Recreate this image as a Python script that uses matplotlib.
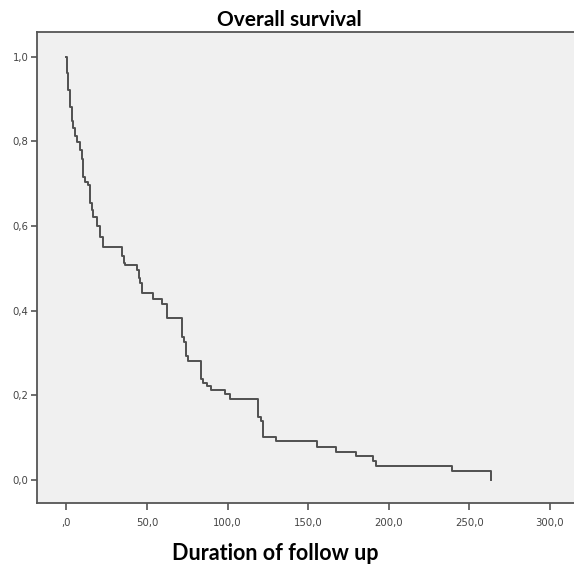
import matplotlib
matplotlib.use("Agg")
import matplotlib.pyplot as plt
from matplotlib.ticker import FuncFormatter

# Kaplan-Meier step curve (time, survival)
times = [0, 0.2, 1.1, 2.2, 3.2, 4.2, 5.3, 6.3, 8.4, 9.4, 10.4, 11.5, 13.5, 14.6,
         15.6, 16.6, 18.7, 20.8, 22.8, 34.4, 35.4, 36.4, 43.6, 44.8, 45.8, 46.8,
         53.5, 59.1, 62.5, 71.5, 73.0, 74.0, 75.6, 83.3, 84.9, 87.0, 89.5, 98.5,
         101.2, 119.1, 121.0, 122.2, 130.3, 155.2, 167.4, 179.6, 190.3, 191.8,
         239.5, 263.3]
survival = [1.000, 0.961, 0.922, 0.880, 0.848, 0.831, 0.812, 0.799, 0.780, 0.757,
            0.715, 0.705, 0.697, 0.655, 0.638, 0.622, 0.599, 0.575, 0.551, 0.530,
            0.512, 0.507, 0.496, 0.477, 0.465, 0.441, 0.427, 0.416, 0.383, 0.337,
            0.325, 0.292, 0.281, 0.238, 0.230, 0.222, 0.213, 0.204, 0.191, 0.149,
            0.140, 0.101, 0.093, 0.079, 0.067, 0.057, 0.045, 0.034, 0.022, 0.000]

x_ticks = [0, 50, 100, 150, 200, 250, 300]
y_ticks = [0.0, 0.2, 0.4, 0.6, 0.8, 1.0]

title = "Overall survival"
xlabel = "Duration of follow up"

W, H = 574, 569
fig = plt.figure(figsize=(W / 100, H / 100), dpi=100)
fig.patch.set_facecolor("white")

left, right, top, bottom = 37, 574, 32, 503
ax = fig.add_axes([left / W, 1 - bottom / H, (right - left) / W, (bottom - top) / H])
ax.set_facecolor("#f0f0f0")

ax.plot(times, survival, drawstyle="steps-post", color="#505050", lw=1.4)

ax.set_xlim(-18.3, 315)
ax.set_ylim(-0.054, 1.058)

ax.set_xticks(x_ticks)
ax.set_yticks(y_ticks)


def xfmt(v, pos):
    s = f"{v:.1f}".replace(".", ",")
    if abs(v) < 1e-9:
        s = ",0"
    return s


def yfmt(v, pos):
    return f"{v:.1f}".replace(".", ",")


ax.xaxis.set_major_formatter(FuncFormatter(xfmt))
ax.yaxis.set_major_formatter(FuncFormatter(yfmt))

for side in ["left", "bottom", "top"]:
    ax.spines[side].set_color("#555555")
    ax.spines[side].set_linewidth(1.3)
ax.spines["right"].set_visible(False)

ax.tick_params(axis="both", direction="out", colors="#555555", labelcolor="#444444",
               labelsize=7.3, length=4, width=1.2)
ax.tick_params(axis="x", length=5, pad=6)
ax.tick_params(axis="y", pad=2)

fig.text(289 / W, 1 - 20 / H, title, ha="center", va="center",
         fontsize=15, fontweight="bold", family=["Lato", "DejaVu Sans"], color="black")
fig.text(275 / W, 1 - 554 / H, xlabel, ha="center", va="center",
         fontsize=15.5, fontweight="bold", family=["Lato", "DejaVu Sans"], color="black")

fig.savefig("out.png", dpi=100)
